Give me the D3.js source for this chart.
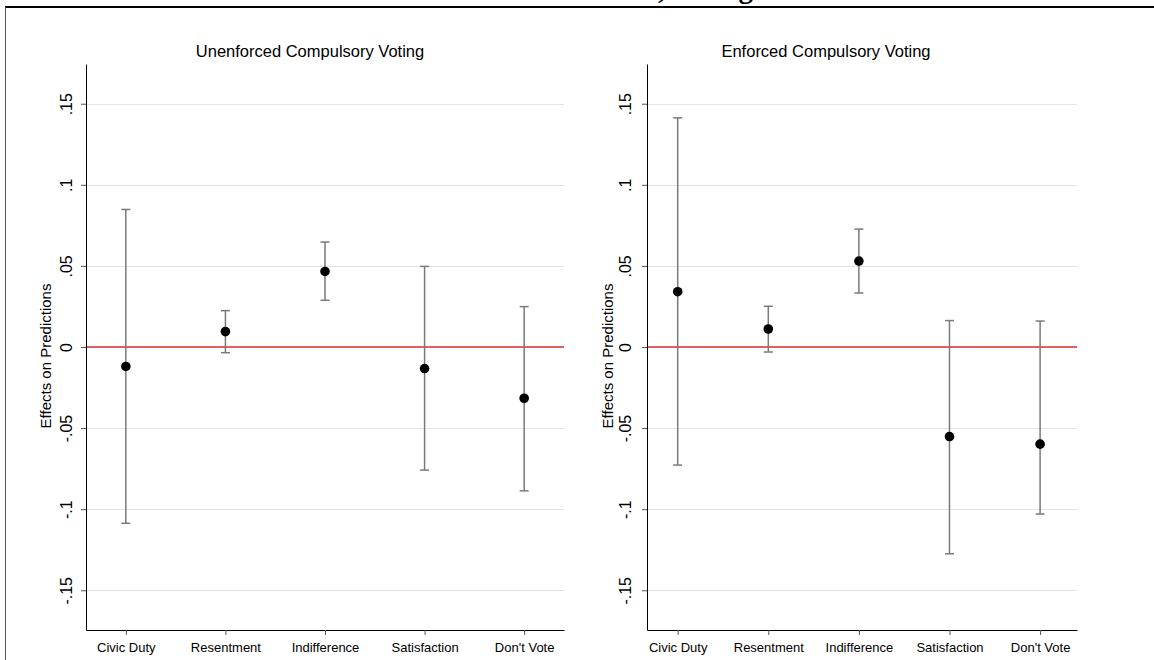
<!DOCTYPE html>
<html>
<head>
<meta charset="utf-8">
<script src="https://cdn.jsdelivr.net/npm/d3@7"></script>
<style>
  html, body { margin: 0; padding: 0; background: #fff; }
  svg { display: block; }
  text { font-family: "Liberation Sans", Arial, Helvetica, sans-serif; fill: #000; }
</style>
</head>
<body>
<svg id="chart" width="1154" height="660"></svg>
<script>
// Outcome categories on the x axis
const categories = ["Civic Duty", "Resentment", "Indifference", "Satisfaction", "Don't Vote"];

// Panel titles
const panelTitles = ["Unenforced Compulsory Voting", "Enforced Compulsory Voting"];

// Unenforced compulsory voting: point estimates and confidence bounds
const unenforcedEst = [-0.012, 0.0095, 0.0466, -0.0133, -0.0316];
const unenforcedLo  = [-0.1087, -0.0035, 0.0288, -0.0759, -0.0887];
const unenforcedHi  = [0.0848, 0.0224, 0.0647, 0.0497, 0.0249];

// Enforced compulsory voting: point estimates and confidence bounds
const enforcedEst = [0.0341, 0.0111, 0.0530, -0.0552, -0.0599];
const enforcedLo  = [-0.0728, -0.0031, 0.0333, -0.1275, -0.1030];
const enforcedHi  = [0.1413, 0.0251, 0.0727, 0.0163, 0.0160];

// Y axis ticks and their labels
const yTicks = [-0.15, -0.1, -0.05, 0, 0.05, 0.1, 0.15];
const yTickLabels = ["-.15", "-.1", "-.05", "0", ".05", ".1", ".15"];

const yAxisTitle = "Effects on Predictions";
const figureTitle = "Motivations, Voting";

const svg = d3.select("#chart");

// Figure frame (top rule and left edge)
svg.append("line").attr("x1", 5).attr("x2", 1154).attr("y1", 7).attr("y2", 7)
  .attr("stroke", "#000").attr("stroke-width", 2);
svg.append("line").attr("x1", 5.5).attr("x2", 5.5).attr("y1", 7).attr("y2", 660)
  .attr("stroke", "#555").attr("stroke-width", 1);

// Figure title sits above the frame
svg.append("text")
  .attr("x", 753).attr("y", -2)
  .attr("text-anchor", "end")
  .style("font-family", "'Liberation Serif', 'Times New Roman', serif")
  .style("font-weight", "bold")
  .style("font-size", "29px")
  .text(figureTitle);

const y = d3.scaleLinear().domain([-0.1745, 0.1745]).range([630, 64]);

const panels = [
  { title: panelTitles[0], est: unenforcedEst, lo: unenforcedLo, hi: unenforcedHi,
    x0: 86, x1: 564, padding: 0.4, align: 0.5, titleX: 310, ytitleX: 51, tickLabelX: 72 },
  { title: panelTitles[1], est: enforcedEst, lo: enforcedLo, hi: enforcedHi,
    x0: 647, x1: 1077, padding: 0.373, align: 0.454, titleX: 826, ytitleX: 613, tickLabelX: 631 }
];

panels.forEach(p => {
  const g = svg.append("g");
  const x = d3.scalePoint().domain(categories).range([p.x0, p.x1])
    .padding(p.padding).align(p.align);

  // Horizontal grid lines
  g.selectAll("line.grid").data(yTicks.filter(t => t !== 0)).join("line")
    .attr("class", "grid")
    .attr("x1", p.x0).attr("x2", p.x1)
    .attr("y1", d => Math.round(y(d)) + 0.5).attr("y2", d => Math.round(y(d)) + 0.5)
    .attr("stroke", "#e3e3e3").attr("stroke-width", 1.2);

  // Zero reference line
  g.append("line")
    .attr("x1", p.x0).attr("x2", p.x1)
    .attr("y1", y(0)).attr("y2", y(0))
    .attr("stroke", "#e3262b").attr("stroke-width", 1.6);

  // Y axis
  const yAxis = d3.axisLeft(y).tickValues(yTicks)
    .tickFormat((d, i) => yTickLabels[i]).tickSize(5).tickSizeOuter(0).tickPadding(9);
  const ya = g.append("g").attr("transform", `translate(${p.x0},0)`).call(yAxis);
  ya.select(".domain").attr("stroke", "#000");
  ya.selectAll(".tick line").attr("stroke", "#555");
  ya.selectAll(".tick text")
    .attr("x", null).attr("dy", null).attr("y", 0)
    .attr("transform", `translate(${p.tickLabelX - p.x0},0) rotate(-90)`)
    .attr("text-anchor", "middle")
    .style("font-size", "16px")
    .style("font-family", "'Liberation Sans', Arial, sans-serif")
    .attr("fill", "#000");

  // X axis
  const xAxis = d3.axisBottom(x).tickSize(5).tickSizeOuter(0).tickPadding(8);
  const xa = g.append("g").attr("transform", "translate(0,630)").call(xAxis);
  xa.select(".domain").attr("stroke", "#000");
  xa.selectAll(".tick line").attr("stroke", "#555");
  xa.selectAll(".tick text")
    .style("font-size", "13px")
    .style("font-family", "'Liberation Sans', Arial, sans-serif")
    .attr("fill", "#000");

  // Y axis title
  g.append("text")
    .attr("transform", `translate(${p.ytitleX},356) rotate(-90)`)
    .attr("text-anchor", "middle")
    .style("font-size", "15px")
    .text(yAxisTitle);

  // Panel title
  g.append("text")
    .attr("x", p.titleX).attr("y", 57)
    .attr("text-anchor", "middle")
    .style("font-size", "16.5px")
    .text(p.title);

  // Confidence intervals
  const rows = categories.map((c, i) => ({ c, est: p.est[i], lo: p.lo[i], hi: p.hi[i] }));
  const bars = g.selectAll("g.ci").data(rows).join("g").attr("class", "ci");
  bars.append("line")
    .attr("x1", d => x(d.c)).attr("x2", d => x(d.c))
    .attr("y1", d => y(d.lo)).attr("y2", d => y(d.hi))
    .attr("stroke", "#7a7a7a").attr("stroke-width", 1.5);
  ["lo", "hi"].forEach(k => {
    bars.append("line")
      .attr("x1", d => x(d.c) - 4.5).attr("x2", d => x(d.c) + 4.5)
      .attr("y1", d => y(d[k])).attr("y2", d => y(d[k]))
      .attr("stroke", "#7a7a7a").attr("stroke-width", 1.5);
  });

  // Point estimates
  g.selectAll("circle.est").data(rows).join("circle")
    .attr("class", "est")
    .attr("cx", d => x(d.c)).attr("cy", d => y(d.est))
    .attr("r", 4.8)
    .attr("fill", "#000");
});
</script>
</body>
</html>
